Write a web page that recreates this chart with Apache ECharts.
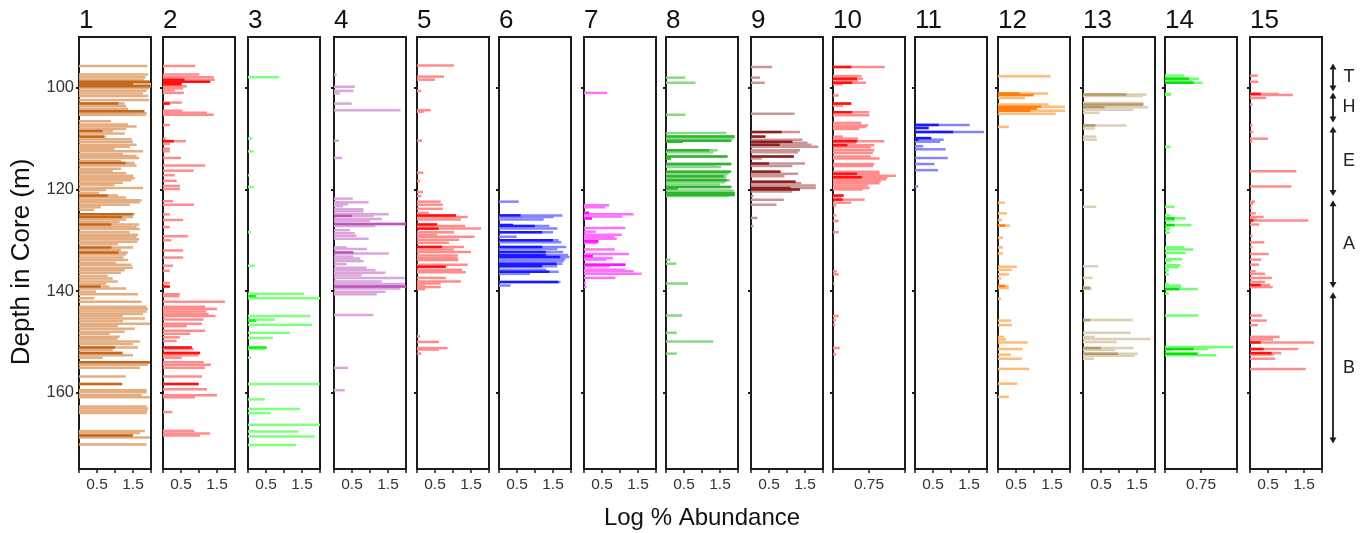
<!DOCTYPE html>
<html><head><meta charset="utf-8">
<script src="https://cdn.jsdelivr.net/npm/echarts@6/dist/echarts.min.js"></script>
<style>html,body{margin:0;padding:0;background:#fff}#c{width:1369px;height:533px}</style>
</head><body><div id="c"></div>
<script>
// ---------- DATA ----------
const panelNames = ['1','2','3','4','5','6','7','8','9','10','11','12','13','14','15'];
const xMaxValues = [2,2,2,2,2,2,2,2,2,1.5,2,2,2,1.5,2];
const xTickSteps = [0.5,0.5,0.5,0.5,0.5,0.5,0.5,0.5,0.5,0.75,0.5,0.5,0.5,0.75,0.5];
const xTickLabels = [[0.5,1.5],[0.5,1.5],[0.5,1.5],[0.5,1.5],[0.5,1.5],[0.5,1.5],[0.5,1.5],[0.5,1.5],[0.5,1.5],[0.75],[0.5,1.5],[0.5,1.5],[0.5,1.5],[0.75],[0.5,1.5]];
const depthTicks = [100,120,140,160];
const depthMin = 90, depthMax = 175;
const zoneNames = ['T','H','E','A','B'];
const zoneTop = [95.2,100.9,107.6,122.1,140.2];
const zoneBottom = [100.7,106.8,121.3,139.4,170.0];

// [depth (m), log % abundance]
const p1 = [[95.7,1.90],[97.4,1.92],[97.9,1.85],[98.4,1.80],[98.8,1.97],[99.3,2.0],[99.7,2.0],[100.1,1.95],[100.6,1.88],[101.1,1.78],[101.6,1.92],[102.4,1.95],[103.1,1.27],[103.6,1.31],[104.1,1.36],[104.6,1.83],[105.0,1.88],[105.3,1.86],[106.6,0.89],[107.2,1.36],[107.6,1.60],[108.1,1.31],[108.5,0.94],[109.0,1.27],[109.6,0.75],[110.1,1.46],[110.6,1.50],[111.2,1.60],[111.6,1.41],[112.0,0.99],[112.5,1.78],[113.0,1.22],[113.4,1.60],[113.8,1.67],[114.4,1.17],[114.8,1.55],[115.3,1.60],[115.9,1.17],[116.3,0.94],[116.8,1.31],[117.3,1.50],[117.8,1.55],[118.2,1.46],[118.7,1.22],[119.1,0.99],[119.7,1.78],[120.1,0.75],[120.7,0.56],[121.2,1.08],[121.6,1.31],[122.1,1.74],[122.5,1.69],[123.0,1.41],[123.5,0.61],[124.0,0.42],[124.9,1.55],[125.4,1.50],[125.9,1.31],[126.4,1.13],[126.9,1.67],[127.4,1.60],[127.8,1.69],[128.4,1.41],[128.9,1.64],[129.4,1.60],[129.8,1.67],[130.3,1.62],[130.8,1.08],[131.4,1.50],[131.9,1.17],[132.4,1.36],[132.8,1.31],[133.4,1.24],[133.9,1.36],[134.4,1.03],[134.8,1.46],[135.4,1.50],[135.9,1.27],[136.4,1.17],[137.0,0.80],[137.5,0.94],[138.1,1.08],[138.6,0.75],[139.1,0.85],[139.5,1.31],[140.1,0.47],[140.6,1.64],[141.4,0.42],[142.1,1.74],[143.1,1.88],[143.5,1.92],[144.0,1.88],[144.5,1.78],[144.9,1.22],[145.4,1.83],[145.9,1.22],[146.4,1.97],[146.9,1.08],[147.4,1.55],[148.0,1.27],[148.4,0.85],[149.0,1.13],[149.4,1.08],[149.9,1.69],[150.4,1.50],[151.1,1.64],[151.6,0.94],[152.2,1.22],[152.6,1.50],[153.1,0.66],[154.0,1.97],[154.5,1.92],[155.1,1.69],[156.8,1.30],[158.3,1.17],[159.5,1.88],[159.9,1.88],[160.5,1.74],[160.9,1.97],[162.7,1.88],[163.1,1.92],[163.6,1.90],[164.0,1.88],[167.5,1.83],[167.9,1.69],[168.4,1.50],[168.8,1.97],[170.2,1.88]];
const p1d = [[98.8,1.97],[99.3,1.5],[99.7,2.0],[103.1,1.1],[104.6,1.8],[108.5,0.65],[109.6,0.7],[114.8,1.3],[121.2,0.8],[124.9,1.5],[125.4,1.2],[126.9,0.9],[131.4,0.9],[132.4,1.1],[139.1,0.6],[151.1,1.0],[152.2,1.2],[154.0,1.97],[158.3,1.2],[168.4,1.5]];

const p2 = [[95.7,0.89],[97.4,1.01],[97.9,1.41],[98.4,1.44],[98.8,1.31],[99.3,0.52],[99.7,0.66],[100.1,0.56],[100.5,0.33],[101.0,0.58],[102.9,0.52],[103.1,0.19],[104.5,0.54],[104.9,1.22],[105.3,1.41],[107.3,0.19],[110.0,0.09],[110.5,0.64],[111.0,0.19],[112.0,0.19],[112.5,0.19],[113.8,0.50],[115.3,1.17],[116.3,0.85],[117.2,0.33],[118.3,0.38],[119.3,0.47],[119.9,0.47],[122.3,0.28],[123.0,0.86],[124.9,0.19],[126.0,0.56],[127.4,0.19],[129.2,0.70],[130.0,0.23],[132.0,0.56],[133.4,0.56],[135.0,0.28],[136.0,0.19],[138.4,0.19],[139.1,0.19],[140.6,0.47],[141.0,0.45],[142.1,1.72],[143.1,1.17],[143.5,1.50],[144.0,1.20],[144.5,1.27],[144.9,1.46],[145.6,1.13],[146.4,1.08],[146.9,0.66],[147.8,1.17],[148.4,0.75],[149.1,0.47],[149.8,0.38],[151.1,0.80],[151.4,0.85],[152.2,1.03],[152.6,0.99],[153.1,0.52],[154.0,1.13],[154.5,1.33],[155.1,1.17],[156.8,1.08],[158.3,0.99],[159.3,1.22],[160.5,1.50],[160.9,0.89],[163.8,0.26],[167.5,0.87],[168.0,1.31],[168.4,1.03]];
const p2d = [[98.4,0.6],[98.8,1.31],[99.3,0.52],[103.1,0.19],[110.5,0.3],[139.1,0.19],[151.1,0.80],[152.2,1.03],[158.3,0.99]];

const p3 = [[97.9,0.87],[110.0,0.12],[112.5,0.16],[117.2,0.05],[119.5,0.16],[128.4,0.09],[135.0,0.19],[140.5,1.55],[141.0,0.23],[141.4,2.0],[144.9,1.74],[145.6,0.75],[145.8,0.23],[146.6,1.78],[148.2,1.17],[149.2,0.69],[151.1,0.52],[151.4,0.47],[153.1,0.09],[158.3,1.99],[161.3,0.47],[163.2,1.44],[164.0,0.63],[166.3,2.0],[167.6,1.41],[168.6,1.86],[170.3,1.34]];
const p3d = [[141.0,0.23],[145.8,0.23],[151.1,0.52]];

const p4 = [[97.4,0.08],[99.8,0.58],[100.6,0.54],[101.1,0.16],[103.1,0.49],[104.4,1.85],[110.4,0.14],[113.8,0.23],[121.8,0.52],[122.5,0.96],[122.9,0.39],[123.3,0.25],[123.9,0.82],[124.3,0.82],[124.9,1.52],[125.2,1.10],[125.8,1.33],[126.2,1.0],[126.8,2.0],[127.2,1.15],[128.0,0.44],[128.6,0.58],[129.1,0.63],[129.7,0.96],[131.4,0.35],[131.7,0.91],[132.4,0.54],[132.6,1.52],[133.2,0.54],[133.6,0.73],[134.1,0.82],[134.7,0.35],[135.4,0.91],[135.9,1.15],[136.4,1.43],[136.9,0.77],[137.4,1.96],[138.1,1.33],[138.6,1.96],[139.1,2.0],[139.5,1.85],[140.1,1.43],[140.6,1.19],[144.7,1.10],[155.1,0.39],[159.5,0.30]];
const p4d = [[125.2,0.5],[126.8,2.0],[132.4,0.54],[139.1,2.0]];

const p5 = [[95.6,1.03],[97.8,0.75],[98.4,0.50],[100.6,0.12],[104.4,0.38],[104.7,0.19],[110.4,0.14],[116.7,0.18],[118.3,0.09],[120.5,0.17],[121.3,0.12],[122.4,0.66],[123.0,0.72],[123.8,0.72],[124.6,0.33],[125.1,1.08],[125.4,1.41],[125.9,1.22],[126.9,0.56],[127.2,1.34],[127.7,1.78],[128.4,1.03],[128.9,0.56],[129.3,1.60],[129.9,1.17],[130.5,0.89],[131.3,1.31],[131.8,1.03],[132.3,1.50],[133.0,1.13],[133.5,1.13],[133.9,1.15],[134.8,1.41],[135.2,0.80],[135.8,1.25],[136.3,1.36],[137.4,0.80],[138.1,1.22],[138.5,0.66],[139.0,0.23],[139.2,0.66],[139.6,0.23],[148.9,0.09],[150.0,0.61],[151.2,0.85],[151.5,0.61],[152.3,0.12]];
const p5d = [[125.1,1.08],[126.9,0.56],[127.7,0.6],[131.3,0.7],[135.2,0.80]];

const p6 = [[122.4,0.55],[125.1,1.76],[125.4,1.52],[125.9,1.24],[127.0,0.39],[127.2,1.40],[127.7,1.62],[128.4,1.50],[129.3,0.49],[130.0,1.66],[130.4,1.73],[131.3,1.87],[131.7,1.62],[132.3,1.78],[132.9,1.92],[133.3,1.96],[133.7,1.85],[134.1,1.80],[134.6,1.76],[135.1,1.62],[135.8,1.31],[136.2,1.66],[136.6,0.86],[138.2,1.71],[138.9,0.32]];
const p6d = [[125.1,0.6],[127.0,0.39],[127.2,1.0],[128.4,1.2],[130.0,1.5],[131.3,1.2],[132.3,1.3],[132.9,1.3],[133.3,1.7],[134.6,1.6],[135.1,1.2],[136.2,1.4],[138.2,1.65]];

const p7 = [[101.0,0.64],[123.1,0.70],[123.5,0.59],[124.6,0.14],[124.9,1.38],[125.3,1.06],[125.7,0.22],[127.6,1.15],[128.3,0.33],[128.9,1.05],[129.3,0.85],[129.7,0.91],[130.2,0.40],[130.5,0.38],[131.8,0.85],[132.7,1.25],[133.1,0.25],[133.5,0.80],[133.8,0.63],[134.8,1.15],[135.1,0.72],[135.8,1.15],[136.1,1.38],[136.6,1.60],[137.4,0.87],[138.4,0.05],[139.2,0.07]];
const p7d = [[124.6,0.14],[125.7,0.22],[130.2,0.4],[133.1,0.25],[134.8,1.15]];

const p8 = [[98.0,0.54],[99.0,0.82],[105.3,0.54],[108.9,1.67],[109.6,1.92],[110.0,1.88],[110.4,1.83],[110.6,0.47],[112.3,1.43],[112.7,1.31],[113.5,1.72],[113.9,0.14],[115.0,1.83],[115.3,1.36],[115.6,1.53],[116.5,1.81],[116.9,1.74],[117.4,1.69],[117.8,1.66],[118.2,1.78],[118.6,1.64],[119.0,1.50],[119.5,1.83],[119.8,0.33],[120.2,1.88],[120.7,1.92],[121.1,1.92],[121.3,1.74],[133.8,0.12],[134.6,0.29],[138.5,0.61],[144.8,0.45],[148.2,0.30],[149.9,1.31],[152.3,0.30]];
const p8d = [[109.6,1.9],[110.4,1.8],[110.6,0.47],[112.3,1.2],[113.5,1.7],[113.9,0.14],[115.0,1.8],[116.5,1.8],[117.4,1.6],[118.2,1.7],[119.5,1.8],[119.8,0.33],[120.7,1.9],[121.1,1.9]];

const p9 = [[95.9,0.58],[98.0,0.25],[99.0,0.38],[105.1,1.21],[108.7,1.36],[109.6,0.40],[110.2,1.43],[110.6,1.15],[110.8,1.57],[111.2,1.68],[111.6,1.87],[112.3,1.36],[112.7,1.31],[113.5,1.19],[113.9,0.30],[114.9,1.50],[115.4,1.15],[116.5,0.82],[116.9,1.31],[117.4,0.93],[118.5,1.24],[118.8,1.40],[119.2,1.80],[119.7,1.80],[120.0,1.36],[120.4,1.15],[121.3,0.07],[122.0,0.91],[123.0,0.71],[125.6,0.18],[127.2,0.07]];
const p9d = [[108.7,0.85],[109.6,0.40],[110.6,1.15],[111.2,0.8],[113.5,1.19],[114.9,0.5],[116.5,0.82],[118.5,1.24],[119.7,1.1],[120.0,1.36]];

const p10 = [[95.9,1.08],[97.7,0.59],[98.2,0.62],[98.7,0.52],[99.0,0.69],[99.3,0.21],[101.5,0.12],[103.1,0.38],[103.5,0.21],[104.8,0.76],[105.4,0.76],[106.9,0.59],[107.4,0.73],[107.7,0.69],[108.1,0.55],[109.6,0.21],[110.0,0.52],[110.5,1.07],[110.8,0.48],[111.3,0.86],[111.7,0.79],[112.3,0.86],[112.8,0.83],[113.5,0.79],[113.9,0.97],[115.0,0.86],[115.4,0.84],[116.5,0.97],[116.9,0.97],[117.3,1.31],[117.6,1.14],[118.0,1.11],[118.4,1.00],[118.8,0.97],[119.2,0.73],[119.7,0.76],[120.0,0.62],[121.2,0.22],[121.5,0.17],[122.0,0.66],[122.6,0.38],[123.1,0.07],[125.1,0.07],[126.2,0.12],[128.4,0.12],[136.1,0.08],[136.7,0.12],[138.5,0.03],[144.9,0.12],[145.7,0.06],[146.6,0.05],[151.2,0.14],[152.4,0.07]];
const p10d = [[95.9,0.38],[98.2,0.5],[99.0,0.4],[103.1,0.38],[104.8,0.4],[110.5,0.5],[111.3,0.3],[116.9,0.5],[117.6,0.6],[121.2,0.22],[122.0,0.2]];

const p11 = [[107.3,1.52],[107.9,0.38],[108.7,1.92],[109.9,0.45],[110.2,0.80],[110.6,0.70],[111.5,0.23],[112.1,0.85],[113.8,0.91],[115.0,0.54],[116.2,0.64],[119.4,0.09]];
const p11d = [[107.3,0.66],[107.9,0.38],[108.7,1.06],[109.9,0.45],[110.2,0.1]];

const p12 = [[97.7,1.46],[101.1,1.39],[101.4,0.99],[102.0,0.75],[103.3,1.41],[103.7,1.86],[104.1,1.08],[104.5,1.86],[105.1,1.60],[107.7,0.30],[122.6,0.19],[124.7,0.25],[126.0,0.11],[127.1,0.33],[129.5,0.14],[131.4,0.14],[132.6,0.14],[135.2,0.52],[135.8,0.38],[136.7,0.31],[137.5,0.09],[139.0,0.30],[139.4,0.30],[141.5,0.09],[145.8,0.36],[146.7,0.39],[149.0,0.17],[149.5,0.23],[150.1,0.82],[151.4,0.68],[152.5,0.36],[153.3,0.66],[155.3,0.86],[158.2,0.54],[160.8,0.30]];
const p12d = [[101.1,0.6],[101.4,0.99],[103.7,1.2],[104.1,1.08],[104.5,0.9],[127.1,0.2],[139.0,0.2]];

const p13 = [[101.3,1.77],[101.6,1.66],[103.0,1.68],[103.3,1.64],[103.8,1.80],[104.3,1.40],[104.9,0.46],[107.4,1.21],[108.0,0.33],[109.6,0.37],[110.2,0.39],[123.4,0.37],[135.1,0.42],[137.4,0.27],[139.2,0.21],[139.6,0.24],[145.7,1.38],[148.2,1.33],[149.0,0.33],[149.4,1.88],[150.0,0.94],[151.2,1.40],[151.6,0.89],[152.3,1.52],[152.7,1.44],[153.3,0.30]];
const p13d = [[101.3,1.21],[103.3,1.68],[103.8,0.6],[107.4,0.35],[139.4,0.2],[145.7,0.2],[151.2,0.5],[152.3,0.98]];

const p14 = [[97.6,0.40],[98.2,0.71],[98.7,0.57],[99.0,0.78],[101.2,0.13],[101.4,0.11],[111.6,0.11],[123.4,0.20],[125.1,0.11],[125.7,0.43],[126.1,0.20],[127.0,0.55],[127.2,0.12],[127.8,0.11],[128.5,0.10],[131.4,0.40],[131.8,0.59],[132.5,0.43],[133.7,0.36],[134.0,0.14],[134.9,0.32],[135.3,0.29],[135.9,0.08],[136.7,0.08],[138.6,0.08],[138.9,0.33],[139.2,0.34],[139.6,0.69],[140.5,0.08],[144.8,0.69],[151.0,1.42],[151.4,0.89],[151.6,0.15],[152.3,0.68],[152.6,1.07]];
const p14d = [[98.2,0.5],[99.0,0.6],[125.7,0.2],[127.0,0.2],[139.6,0.3],[151.4,0.6],[152.3,0.68]];

const p15 = [[97.6,0.21],[98.8,0.23],[101.2,0.80],[101.4,1.19],[102.0,0.45],[103.3,0.07],[107.4,0.07],[108.7,0.09],[110.0,0.50],[110.6,0.07],[116.4,1.29],[119.4,1.15],[122.4,0.14],[122.8,0.09],[123.6,0.05],[124.7,0.16],[125.4,0.38],[125.9,0.19],[126.1,1.62],[126.9,0.25],[129.1,0.07],[130.4,0.40],[131.3,0.07],[132.7,0.52],[133.8,0.31],[134.8,0.25],[136.1,0.16],[136.6,0.42],[137.4,0.61],[138.2,0.42],[138.8,0.56],[139.2,0.63],[144.8,0.33],[145.8,0.47],[146.7,0.22],[149.0,0.82],[149.5,0.64],[150.1,1.78],[151.4,1.34],[152.2,0.87],[152.5,0.66],[153.3,0.70],[155.3,1.55]];
const p15d = [[101.2,0.3],[126.1,0.1],[138.8,0.3],[150.1,0.3],[151.4,0.38],[152.2,0.6]];

const lightSets = [p1,p2,p3,p4,p5,p6,p7,p8,p9,p10,p11,p12,p13,p14,p15];
const darkSets  = [p1d,p2d,p3d,p4d,p5d,p6d,p7d,p8d,p9d,p10d,p11d,p12d,p13d,p14d,p15d];

// ---------- STYLE / LAYOUT ----------
const FONT = "'Liberation Sans', Arial, Helvetica, sans-serif";
const lightColors = ['#e4ae82','#ff8c8c','#80ff80','#dba6db','#ff8c8c','#8585ff','#ff70ff','#88d888','#c99595','#ff8c8c','#8585ff','#ffbb77','#ddcfb3','#70ff70','#ff8c8c'];
const darkColors  = ['#c4681e','#ff1010','#20ee20','#bb55bb','#ff1010','#1a1aff','#ff10ff','#30b530','#8f2020','#ff1010','#1a1aff','#ff8010','#b39a6b','#10dd10','#ff1010'];
const lefts = [79,163,248,334,417,499,584,666,751,833,915,998,1083,1165,1250];
const TOP = 37, HEIGHT = 432, WIDTH = 72, BAR_H = 2.5;
const INK = '#1c1c1c';

function barRenderer(color){
  return function(params, api){
    const v = api.value(0), d = api.value(1);
    const a = api.coord([0, d]), b = api.coord([v, d]);
    return {type:'rect', shape:{x:a[0], y:a[1]-BAR_H/2, width:b[0]-a[0], height:BAR_H}, style:{fill:color}};
  };
}

const grid = [], xAxis = [], yAxis = [], series = [], title = [];
panelNames.forEach((name, i) => {
  grid.push({left:lefts[i], top:TOP, width:WIDTH, height:HEIGHT, show:true, borderColor:INK, borderWidth:2, backgroundColor:'transparent'});
  xAxis.push({gridIndex:i, type:'value', min:0, max:xMaxValues[i], interval:xTickSteps[i],
    axisLine:{show:true, lineStyle:{color:INK, width:2}}, splitLine:{show:false},
    axisTick:{show:true, length:4, lineStyle:{color:INK, width:1.5}},
    axisLabel:{show:true, customValues:xTickLabels[i], margin:8, fontSize:15.5, color:'#333', fontFamily:FONT,
      formatter: v => String(v)}});
  yAxis.push({gridIndex:i, type:'value', inverse:true, min:depthMin, max:depthMax, interval:10,
    axisLine:{show:true, lineStyle:{color:INK, width:2}}, splitLine:{show:false},
    axisTick:{show:true, length:3, customValues:depthTicks, lineStyle:{color:INK, width:2}},
    axisLabel:{show:i===0, customValues:depthTicks, margin:5, fontSize:16.5, color:'#333', fontFamily:FONT}});
  title.push({text:name, left:lefts[i], top:8, padding:0, textStyle:{fontSize:26, fontWeight:'normal', color:'#111', fontFamily:FONT}});
  series.push({type:'custom', xAxisIndex:i, yAxisIndex:i, renderItem:barRenderer(lightColors[i]),
    data: lightSets[i].map(r => [r[1], r[0]]), encode:{x:0, y:1}, silent:true, z:2});
  series.push({type:'custom', xAxisIndex:i, yAxisIndex:i, renderItem:barRenderer(darkColors[i]),
    data: darkSets[i].map(r => [r[1], r[0]]), encode:{x:0, y:1}, silent:true, z:3});
});

// zone annotation grid
const zi = panelNames.length;
grid.push({left:1325, top:TOP, width:40, height:HEIGHT, show:false});
xAxis.push({gridIndex:zi, type:'value', min:0, max:1, show:false});
yAxis.push({gridIndex:zi, type:'value', inverse:true, min:depthMin, max:depthMax, show:false});
series.push({type:'custom', xAxisIndex:zi, yAxisIndex:zi, silent:true,
  data: zoneNames.map((n, k) => [zoneTop[k], zoneBottom[k]]),
  encode:{y:[0,1]},
  renderItem: function(params, api){
    const t = api.value(0), b = api.value(1);
    const p0 = api.coord([0.2, t]), p1 = api.coord([0.2, b]);
    const m = api.coord([0.6, (t + b) / 2]);
    const x = p0[0], y0 = p0[1], y1 = p1[1];
    return {type:'group', children:[
      {type:'line', shape:{x1:x, y1:y0+3, x2:x, y2:y1-3}, style:{stroke:INK, lineWidth:1.8}},
      {type:'polygon', shape:{points:[[x,y0],[x-3.5,y0+6],[x+3.5,y0+6]]}, style:{fill:INK}},
      {type:'polygon', shape:{points:[[x,y1],[x-3.5,y1-6],[x+3.5,y1-6]]}, style:{fill:INK}},
      {type:'text', x:m[0], y:m[1], style:{text:zoneNames[params.dataIndex], font:'18px '+FONT, fill:'#222',
        textAlign:'center', textVerticalAlign:'middle', align:'center', verticalAlign:'middle'}}
    ]};
  }});

const chart = echarts.init(document.getElementById('c'), null, {renderer:'canvas'});
chart.setOption({
  animation:false,
  backgroundColor:'#fff',
  title, grid, xAxis, yAxis, series,
  graphic:[
    {type:'text', x:22, y:262, rotation:Math.PI/2,
     style:{text:'Depth in Core (m)', font:'26px '+FONT, fill:'#111', textAlign:'center', textVerticalAlign:'middle', align:'center', verticalAlign:'middle'}},
    {type:'text', x:702, y:518,
     style:{text:'Log % Abundance', font:'24px '+FONT, fill:'#111', textAlign:'center', textVerticalAlign:'middle', align:'center', verticalAlign:'middle'}}
  ]
});
</script></body></html>
